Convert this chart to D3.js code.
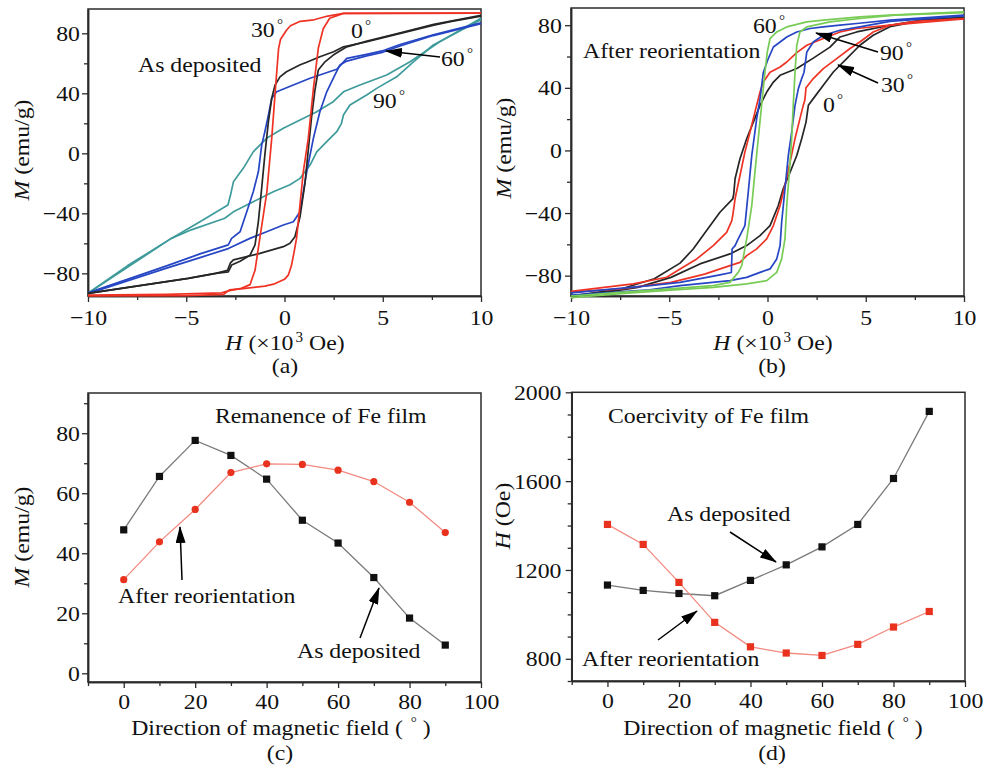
<!DOCTYPE html>
<html><head><meta charset="utf-8">
<script src="https://cdn.jsdelivr.net/npm/d3@7"></script>
<style>body{margin:0;background:#fff}svg{display:block}</style>
</head><body>
<svg id="chart" width="985" height="768"></svg>
<script>
// ---------- DATA ----------
// Panel (a) As deposited hysteresis loops: [H (x10^3 Oe), M (emu/g)]
const a0Desc = [[10,91.5],[8.5,88],[7.6,85.5],[5.9,80],[4.2,74.4],[3.0,71],[2.5,67.7],[1.8,64.4],[1.1,60.5],[0.8,59],[0.1,54.4],[-0.23,51],[-0.48,45.5],[-0.65,36.7],[-0.82,21],[-1.0,-1],[-1.16,-23],[-1.33,-45.5],[-1.5,-61],[-1.76,-68],[-2.26,-72],[-2.69,-74.5],[-2.86,-79],[-3.5,-80],[-4.9,-83.3],[-6.6,-86.7],[-8.3,-90],[-10,-93.3]];
const a0Asc = [[-10,-93.3],[-8.3,-90],[-6.6,-86.7],[-4.9,-83.3],[-3.5,-80],[-2.9,-78],[-2.75,-73],[-2.6,-71],[-1.25,-66.7],[-0.06,-62.2],[0.28,-60],[0.53,-55.6],[0.79,-42.3],[1.04,-20],[1.21,2.2],[1.38,24.4],[1.55,42.2],[1.72,55.5],[2.06,61],[2.48,65.5],[3.17,71],[4.2,74.8],[5.9,80.4],[7.6,86],[10,92]];
const a30Desc = [[10,93.5],[3,93.3],[2.2,91.5],[1.5,89],[0.8,88],[0.3,85],[0.1,82],[-0.2,76],[-0.3,70],[-0.45,45],[-0.65,10],[-0.9,-26],[-1.25,-56],[-1.5,-78],[-1.75,-87.5],[-2.2,-90],[-2.8,-91.5],[-3.2,-93],[-6,-94],[-10,-94.5]];
const a30Asc = [[-10,-95],[-5,-94.8],[-3.1,-94],[-2.8,-91],[-2,-90],[-1,-88.5],[-0.5,-87],[0,-84],[0.2,-81],[0.35,-75],[0.5,-65],[0.62,-56],[0.79,-34],[0.96,-12],[1.21,10],[1.47,43],[1.72,70],[1.97,83],[2.3,90],[3,93.3],[10,93.5]];
const a60Desc = [[10,87],[7.57,79],[5.88,72.5],[5.03,68.5],[4.18,66],[3.17,63.3],[2.66,56],[1.3,50],[0.45,45.5],[-0.4,41],[-0.65,36.7],[-0.82,25.5],[-1.0,14.4],[-1.16,5.5],[-1.33,-12.3],[-1.59,-25.6],[-1.92,-39],[-2.26,-52.3],[-2.69,-56.7],[-2.86,-61],[-4.3,-67],[-6,-75],[-8,-84],[-10,-93]];
const a60Asc = [[-10,-93.5],[-8,-85],[-6,-76.5],[-4.3,-69.5],[-2.86,-63.5],[-1.76,-56.7],[-0.91,-52.3],[-0.06,-47.8],[0.45,-45.6],[0.79,-39],[0.96,-25.6],[1.13,-12.3],[1.47,10],[1.8,27.7],[2.15,41],[2.48,50],[2.82,58.9],[3.17,61.5],[4.18,65],[5.03,67.5],[5.88,71.5],[7.57,78.5],[10,86.5]];
const a90Desc = [[10,90],[7.9,74.4],[6.39,61],[5.2,52.2],[3.84,45.5],[3.0,41],[2.48,34.4],[1.64,27.7],[0.79,22.2],[-0.06,16.7],[-0.91,10],[-1.59,1],[-2.1,-10],[-2.6,-19],[-2.75,-28],[-2.88,-34.5],[-4.3,-45.6],[-5.76,-56.7],[-8,-75],[-10,-93.3]];
const a90Asc = [[-10,-93.3],[-5.76,-56.7],[-4.74,-51],[-3.04,-43.3],[-2.6,-39],[-1.59,-32.3],[-0.57,-25.6],[0.28,-21],[0.79,-16.7],[1.3,-7.8],[1.64,1],[2.15,7.8],[2.66,14.4],[2.9,20],[3.0,25.5],[3.33,32.2],[4.18,38.9],[4.69,43.3],[5.71,51],[6.56,61],[7.57,72.2],[10,89]];
// Panel (b) After reorientation
const b0Desc = [[10,85],[7.93,83.5],[6.23,80],[4.54,75.7],[3.69,72.5],[3.18,66],[2.33,59],[1.49,52.3],[0.64,48],[0.3,43.7],[-0.04,37.3],[-0.38,28.8],[-0.72,18.1],[-1.06,7.5],[-1.4,-5.3],[-1.65,-18.1],[-1.72,-28],[-1.77,-31],[-2.42,-39.5],[-3.09,-51],[-3.78,-63],[-4.45,-72],[-5.76,-82],[-7.46,-88.5],[-10,-93]];
const b0Asc = [[-10,-94],[-6.6,-87.5],[-4.91,-81.1],[-3.44,-72.5],[-1.91,-66.1],[-1.06,-60.8],[-0.38,-54.4],[0.13,-48],[0.55,-35.2],[0.8,-24.5],[1.15,-13.9],[1.49,-3.2],[1.74,7.5],[1.96,18.1],[2.08,28.8],[2.33,33.1],[2.84,41.6],[3.35,50.1],[4.03,58.7],[4.7,67.2],[5.38,73.6],[6.23,79],[7.93,83.2],[10,85]];
const b30Desc = [[10,84],[6.23,80],[4.54,77.9],[3.69,75.7],[2.84,71.5],[2.0,67.2],[1.49,62.5],[0.98,56.5],[0.64,53.3],[0.13,50],[-0.21,43.7],[-0.38,37.3],[-0.64,24.5],[-0.89,11.7],[-1.15,-1.1],[-1.4,-16],[-1.65,-30.9],[-1.77,-41.6],[-1.82,-45],[-2.08,-52.3],[-2.76,-60.8],[-3.6,-69.3],[-4.45,-75.7],[-5.13,-81],[-6.83,-85.3],[-10,-90]];
const b30Asc = [[-10,-90.5],[-7.46,-88.5],[-4.91,-84.3],[-3.2,-79],[-1.91,-73.6],[-1.4,-71.5],[-1.06,-67.2],[-0.55,-62.9],[-0.04,-56.5],[0.3,-48],[0.64,-35.2],[0.89,-22.4],[1.15,-7.5],[1.4,7.5],[1.65,20.3],[1.82,28.8],[1.9,32],[1.96,40],[2.33,45.9],[2.84,52.3],[3.52,58.7],[4.2,65.1],[4.7,69.3],[5.38,75.7],[6.23,80],[7.5,82.5],[10,84.3]];
const b60Desc = [[10,88.5],[6.23,86.4],[4.7,85.3],[2.84,83.2],[2.0,82.1],[1.49,80.5],[0.98,78.9],[0.47,75.7],[0.13,71.5],[-0.01,62.9],[-0.13,50],[-0.3,28.8],[-0.47,7.5],[-0.64,-13.9],[-0.8,-35.2],[-1.06,-56.5],[-1.31,-73.6],[-1.49,-77.9],[-1.91,-84.3],[-2.76,-86.4],[-5,-88.5],[-7.5,-90.7],[-10,-93]];
const b60Asc = [[-10,-94],[-7.46,-91.5],[-4.91,-89.3],[-2.76,-87.5],[-1.06,-85.3],[-0.04,-83.2],[0.47,-77.9],[0.72,-69.3],[0.89,-56.5],[0.98,-35.2],[1.11,-13.9],[1.23,7.5],[1.31,28.8],[1.4,50],[1.49,67.2],[1.65,75.7],[2.0,78.9],[3.18,82.1],[4.7,84.3],[6.5,86.5],[10,88]];
const b90Desc = [[10,86.4],[6.23,83.2],[4.54,81.1],[3.69,80],[2.84,78.9],[2.16,77.9],[1.49,75.7],[0.98,72.5],[0.64,69.3],[0.3,66.1],[0.04,58.7],[-0.21,50],[-0.38,33.1],[-0.55,20.3],[-0.8,-3.2],[-0.98,-26.7],[-1.15,-48],[-1.49,-56.5],[-1.65,-60.8],[-1.8,-63],[-1.84,-78],[-2.42,-79.5],[-3.09,-81.1],[-4.45,-84.3],[-5.98,-86.4],[-10,-91]];
const b90Asc = [[-10,-92.5],[-6,-89],[-4.45,-86.4],[-1.91,-83.2],[-1.06,-81.1],[-0.38,-77.9],[0.13,-75.7],[0.47,-69.3],[0.64,-60.8],[0.72,-45.9],[0.89,-24.5],[1.06,-3.2],[1.23,11.7],[1.4,28.8],[1.57,39.5],[1.74,45.9],[1.86,50],[2.0,62.9],[2.33,69.3],[2.84,73.6],[3.69,76.8],[4.7,78.9],[6.23,82.5],[10,86]];
// Panels (c), (d)
const angles = [0,10,20,30,40,50,60,70,80,90];
const remAsDeposited = [47.8,65.6,77.6,72.6,64.7,51,43.4,31.9,18.4,9.4];
const remAfter = [31.2,43.8,54.6,66.9,69.8,69.6,67.7,63.9,57,46.9];
const coerAsDeposited = [1132,1108,1094,1084,1153,1223,1304,1405,1612,1914];
const coerAfter = [1405,1315,1144,964,854,826,815,865,943,1013];
// Ticks
const hysXMajor = [-10,-5,0,5,10], hysXMinor = [-7.5,-2.5,2.5,7.5];
const hysYMajor = [-80,-40,0,40,80], hysYMinor = [-60,-20,20,60];
const dirXMajor = [0,20,40,60,80,100], dirXMinor = [-10,10,30,50,70,90];
const remYMajor = [0,20,40,60,80], remYMinor = [10,30,50,70,90];
const coerYMajor = [800,1200,1600,2000], coerYMinor = [700,900,1000,1100,1300,1400,1500,1700,1800,1900];

// ---------- DRAW ----------
const svg = d3.select("#chart");
const FONT = "'Liberation Serif','Times New Roman',serif";
const SX = 1.08, FS = 22, AX = "#2b2b2b";

svg.append("defs").append("marker")
  .attr("id","ah").attr("markerUnits","userSpaceOnUse")
  .attr("markerWidth",17).attr("markerHeight",10).attr("refX",16).attr("refY",5).attr("orient","auto")
  .append("path").attr("d","M0,0 L17,5 L0,10 Z").attr("fill","#000");

function txt(g, x, y, parts, opt={}) {
  const t = g.append("text")
    .attr("transform", `translate(${x},${y})` + (opt.rot ? ` rotate(${opt.rot})` : "") + ` scale(${SX},1)`)
    .attr("font-family", FONT).attr("font-size", opt.size || FS).attr("fill", "#111")
    .attr("text-anchor", opt.anchor || "start");
  (Array.isArray(parts) ? parts : [parts]).forEach(p => {
    if (typeof p === "string") t.append("tspan").text(p);
    else {
      const s = t.append("tspan").text(p.t);
      if (p.it) s.attr("font-style","italic");
      if (p.sup) s.attr("font-size", 14).attr("dy", -8).attr("dx", 2);
      if (p.down) s.attr("dy", 8);
    }
  });
  return t;
}
function deg(num) { return [num, {t:"°", sup:true}]; }

function panel(cfg) {
  const x = d3.scaleLinear().domain(cfg.xd).range(cfg.xr);
  const y = d3.scaleLinear().domain(cfg.yd).range(cfg.yr);
  const g = svg.append("g");
  const styleAxis = (sel) => {
    sel.select(".domain").attr("stroke", AX).attr("stroke-width", 1.5);
    sel.selectAll(".tick line").attr("stroke", AX).attr("stroke-width", 1.3);
    sel.selectAll(".tick text").attr("font-family", FONT).attr("font-size", FS).attr("fill","#111")
      .attr("transform", `scale(${SX},1)`);
  };
  const by = cfg.yr[0], lx = cfg.xr[0];
  g.append("g").attr("transform",`translate(0,${by})`)
    .call(d3.axisBottom(x).tickValues(cfg.xMinor).tickSize(4).tickSizeOuter(0).tickFormat(""))
    .call(styleAxis);
  g.append("g").attr("transform",`translate(0,${by})`)
    .call(d3.axisBottom(x).tickValues(cfg.xMajor).tickSize(6).tickSizeOuter(0).tickPadding(cfg.xPad).tickFormat(d3.format("d")))
    .call(styleAxis);
  g.append("g").attr("transform",`translate(${lx},0)`)
    .call(d3.axisLeft(y).tickValues(cfg.yMinor).tickSize(4).tickSizeOuter(0).tickFormat(""))
    .call(styleAxis);
  g.append("g").attr("transform",`translate(${lx},0)`)
    .call(d3.axisLeft(y).tickValues(cfg.yMajor).tickSize(6).tickSizeOuter(0).tickPadding(cfg.yPad).tickFormat(d3.format("d")))
    .call(styleAxis);
  g.append("rect").attr("x",cfg.xr[0]).attr("y",cfg.yr[1]).attr("width",cfg.xr[1]-cfg.xr[0]).attr("height",cfg.yr[0]-cfg.yr[1])
    .attr("fill","none").attr("stroke",AX).attr("stroke-width",1.5);
  return {g,x,y};
}

const hysLine = (p) => d3.line().x(d => p.x(d[0])).y(d => p.y(d[1]));

// Panel (a)
const pa = panel({xd:[-10,10], xr:[88,481], yd:[-95.1,96.2], yr:[296,9],
  xMajor:hysXMajor, xMinor:hysXMinor, yMajor:hysYMajor, yMinor:hysYMinor, xPad:7.5, yPad:1.5});
[[a90Desc,a90Asc,"#3f9b9b"],[a60Desc,a60Asc,"#2646c4"],[a0Desc,a0Asc,"#262626"],[a30Desc,a30Asc,"#ee3325"]].forEach(([d1,d2,c]) => {
  [d1,d2].forEach(d => pa.g.append("path").datum(d).attr("d", hysLine(pa)).attr("fill","none")
    .attr("stroke",c).attr("stroke-width",1.7).attr("stroke-linejoin","round"));
});
// Panel (b)
const pb = panel({xd:[-10,10], xr:[571,964], yd:[-93,91], yr:[296,8],
  xMajor:hysXMajor, xMinor:hysXMinor, yMajor:hysYMajor, yMinor:hysYMinor, xPad:7.5, yPad:2.5});
[[b0Desc,b0Asc,"#262626"],[b30Desc,b30Asc,"#ee3325"],[b90Desc,b90Asc,"#2646c4"],[b60Desc,b60Asc,"#78cc55"]].forEach(([d1,d2,c]) => {
  [d1,d2].forEach(d => pb.g.append("path").datum(d).attr("d", hysLine(pb)).attr("fill","none")
    .attr("stroke",c).attr("stroke-width",1.7).attr("stroke-linejoin","round"));
});
// Panel (c)
const pc = panel({xd:[-10,100], xr:[88,481], yd:[-2.9,93.4], yr:[682,393],
  xMajor:dirXMajor, xMinor:dirXMinor, yMajor:remYMajor, yMinor:remYMinor, xPad:5, yPad:1.5});
// Panel (d)
const pd = panel({xd:[-10,100], xr:[571.7,965], yd:[700,2000], yr:[681,392.3],
  xMajor:dirXMajor, xMinor:dirXMinor, yMajor:coerYMajor, yMinor:coerYMinor, xPad:5, yPad:3.5});

function series(p, vals, lineColor, markColor, shape) {
  const pts = angles.map((a,i) => [a, vals[i]]);
  p.g.append("path").datum(pts).attr("d", d3.line().x(d=>p.x(d[0])).y(d=>p.y(d[1])))
    .attr("fill","none").attr("stroke",lineColor).attr("stroke-width",1.3);
  if (shape === "circle") {
    p.g.selectAll(null).data(pts).join("circle").attr("cx",d=>p.x(d[0])).attr("cy",d=>p.y(d[1])).attr("r",3.6).attr("fill",markColor);
  } else {
    p.g.selectAll(null).data(pts).join("rect").attr("x",d=>p.x(d[0])-3.6).attr("y",d=>p.y(d[1])-3.6)
      .attr("width",7.2).attr("height",7.2).attr("fill",markColor);
  }
}
series(pc, remAsDeposited, "#7a7a7a", "#111", "square");
series(pc, remAfter, "#f28a80", "#e8321e", "circle");
series(pd, coerAsDeposited, "#7a7a7a", "#111", "square");
series(pd, coerAfter, "#f28a80", "#e8321e", "square");

// ---------- TEXT ----------
const root = svg.append("g");
// axis labels
const hLabel = [{t:"H",it:true}," (×10",{t:"3",sup:true},{t:" Oe)",down:true}];
txt(root, 285, 350, hLabel, {anchor:"middle"});
txt(root, 773, 350, hLabel, {anchor:"middle"});
txt(root, 285, 373, "(a)", {anchor:"middle"});
txt(root, 772, 373, "(b)", {anchor:"middle"});
txt(root, 29, 150, [{t:"M",it:true}," (emu/g)"], {anchor:"middle", rot:-90});
txt(root, 511, 148, [{t:"M",it:true}," (emu/g)"], {anchor:"middle", rot:-90});
txt(root, 29, 537, [{t:"M",it:true}," (emu/g)"], {anchor:"middle", rot:-90});
txt(root, 510, 516, [{t:"H",it:true}," (Oe)"], {anchor:"middle", rot:-90});
const dirLabel = ["Direction of magnetic field ( ",{t:"°",sup:true},{t:" )",down:true}];
txt(root, 281, 735, dirLabel, {anchor:"middle"});
txt(root, 773, 735, dirLabel, {anchor:"middle"});
txt(root, 280, 760, "(c)", {anchor:"middle"});
txt(root, 772, 760, "(d)", {anchor:"middle"});
// annotations (a)
txt(root, 251, 37, deg("30"));
txt(root, 351, 38, deg("0"));
txt(root, 138, 72, "As deposited");
txt(root, 441, 66, deg("60"));
txt(root, 373, 108, deg("90"));
// (b)
txt(root, 753, 33, deg("60"));
txt(root, 583, 58, "After reorientation");
txt(root, 880, 60, deg("90"));
txt(root, 881, 92, deg("30"));
txt(root, 823, 112, deg("0"));
// (c)
txt(root, 215, 423, "Remanence of Fe film");
txt(root, 118, 603, "After reorientation");
txt(root, 297, 658, "As deposited");
// (d)
txt(root, 608, 423, "Coercivity of Fe film");
txt(root, 667, 521, "As deposited");
txt(root, 582, 666, "After reorientation");
// arrows
const arrows = [[440,57,386,51],[878,52,816,33],[878,83,838,65],[182,580,180,527],[360,638,379,588],[730,532,776,562],[658,640,697,611]];
arrows.forEach(([x1,y1,x2,y2]) => root.append("line").attr("x1",x1).attr("y1",y1).attr("x2",x2).attr("y2",y2)
  .attr("stroke","#000").attr("stroke-width",1.5).attr("marker-end","url(#ah)"));
</script>
</body></html>
